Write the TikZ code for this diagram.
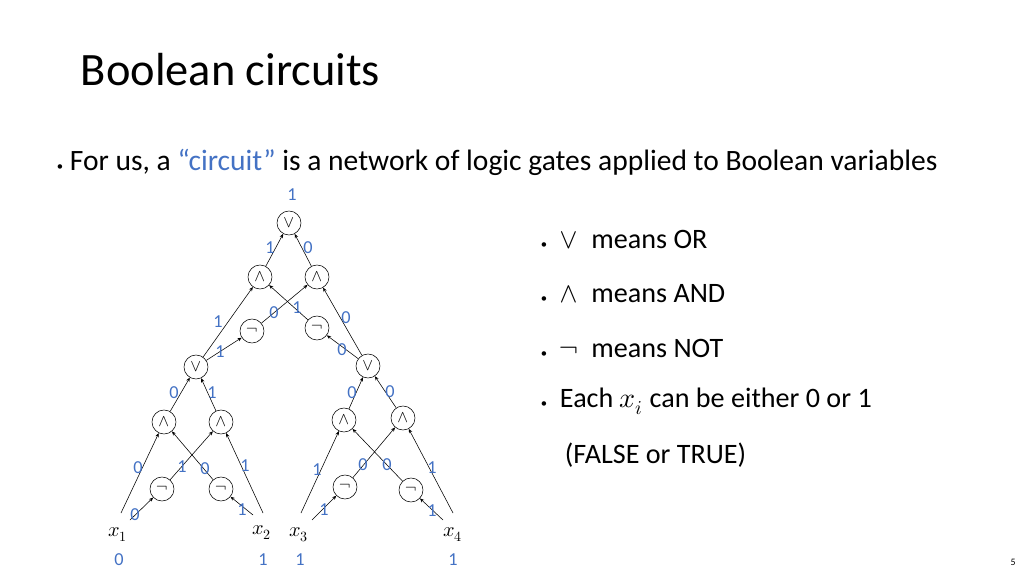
\documentclass[tikz,border=0pt]{standalone}
\usepackage{fontspec}
\setmainfont{Carlito}
\usepackage{unicode-math}
\usetikzlibrary{arrows.meta}
\definecolor{valblue}{HTML}{4472C4}
\tikzset{
  gate/.style={circle,draw,thin,minimum size=0.6cm,inner sep=0pt,font=\large},
  wire/.style={thin,-{Stealth[length=3pt,width=2.5pt]}},
  val/.style={text=valblue,font=\fontsize{13}{14}\selectfont,inner sep=0pt},
}
\begin{document}
\begin{tikzpicture}[x=0.025cm,y=-0.025cm]
\useasboundingbox (0,0) rectangle (1024,576);
\node[anchor=west,font=\fontsize{33}{38}\selectfont] (title) at (76,70) {Boolean circuits};
\node[anchor=west,font=\fontsize{21}{24}\selectfont] (intro) at (52,162) {{\small\textbullet}\ For us, a \textcolor{valblue}{“circuit”} is a network of logic gates applied to Boolean variables};

% gates
\node[gate] (top) at (289,223) {$\vee$};
\node[gate] (andA) at (260,277) {$\wedge$};
\node[gate] (andB) at (317,277) {$\wedge$};
\node[gate] (notL) at (252,331) {$\neg$};
\node[gate] (notR) at (317,328) {$\neg$};
\node[gate] (orL) at (196,367) {$\vee$};
\node[gate] (orR) at (368,366) {$\vee$};
\node[gate] (and1) at (164,422) {$\wedge$};
\node[gate] (and2) at (221,422) {$\wedge$};
\node[gate] (and3) at (344,420) {$\wedge$};
\node[gate] (and4) at (403,418) {$\wedge$};
\node[gate] (not1) at (162,489) {$\neg$};
\node[gate] (not2) at (221,489) {$\neg$};
\node[gate] (not3) at (345,487) {$\neg$};
\node[gate] (not4) at (411,490) {$\neg$};

% inputs
\node[font=\Large] (x1) at (118,535) {$x_1$};
\node[font=\Large] (x2) at (262,533) {$x_2$};
\node[font=\Large] (x3) at (299,535) {$x_3$};
\node[font=\Large] (x4) at (453,535) {$x_4$};
\coordinate (x1a) at (121,513); \coordinate (x1b) at (130,520);
\coordinate (x2a) at (263,513); \coordinate (x2b) at (253,515);
\coordinate (x3a) at (301,513); \coordinate (x3b) at (312,520);
\coordinate (x4a) at (453,513); \coordinate (x4b) at (443,520);

% wires
\draw[wire] (x1a) -- (and1);
\draw[wire] (x1b) -- (not1);
\draw[wire] (not1) -- (and2);
\draw[wire] (not2) -- (and1);
\draw[wire] (x2a) -- (and2);
\draw[wire] (x2b) -- (not2);
\draw[wire] (x3a) -- (and3);
\draw[wire] (x3b) -- (not3);
\draw[wire] (not3) -- (and4);
\draw[wire] (not4) -- (and3);
\draw[wire] (x4a) -- (and4);
\draw[wire] (x4b) -- (not4);
\draw[wire] (and1) -- (orL);
\draw[wire] (and2) -- (orL);
\draw[wire] (and3) -- (orR);
\draw[wire] (and4) -- (orR);
\draw[wire] (orL) -- (andA);
\draw[wire] (orL) -- (notL);
\draw[wire] (notL) -- (andB);
\draw[wire] (notR) -- (andA);
\draw[wire] (orR) -- (andB);
\draw[wire] (orR) -- (notR);
\draw[wire] (andA) -- (top);
\draw[wire] (andB) -- (top);

% values
\node[val] at (292,195) {1};
\node[val] at (270,248) {1};
\node[val] at (308,248) {0};
\node[val] at (218,322) {1};
\node[val] at (220,352) {1};
\node[val] at (274,313) {0};
\node[val] at (297,308) {1};
\node[val] at (346,318) {0};
\node[val] at (342,350) {0};
\node[val] at (174,393) {0};
\node[val] at (212,393) {1};
\node[val] at (352,393) {0};
\node[val] at (390,392) {0};
\node[val] at (138,468) {0};
\node[val] at (182,467) {1};
\node[val] at (205,469) {0};
\node[val] at (245,466) {1};
\node[val] at (135,515) {0};
\node[val] at (242,510) {1};
\node[val] at (317,470) {1};
\node[val] at (363,465) {0};
\node[val] at (387,465) {0};
\node[val] at (432,468) {1};
\node[val] at (324,510) {1};
\node[val] at (432,511) {1};
\node[val] at (119,560) {0};
\node[val] at (263,560) {1};
\node[val] at (300,560) {1};
\node[val] at (453,560) {1};

% legend
\begin{scope}[every node/.style={anchor=west,font=\fontsize{20}{24}\selectfont}]
\node (l1) at (536,240) {{\small\textbullet}\ \ $\vee$\ \ means OR};
\node (l2) at (536,294) {{\small\textbullet}\ \ $\wedge$\ \ means AND};
\node (l3) at (536,348) {{\small\textbullet}\ \ $\neg$\ \ means NOT};
\node (l4) at (536,401) {{\small\textbullet}\ \ Each $x_i$ can be either 0 or 1};
\node (l5) at (560,455) {(FALSE or TRUE)};
\end{scope}
\node[font=\scriptsize] (page) at (1013,562) {5};
\end{tikzpicture}
\end{document}
